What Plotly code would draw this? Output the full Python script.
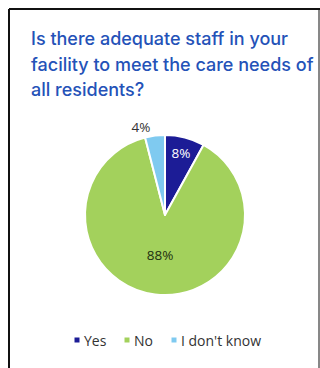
import plotly.graph_objects as go

labels = ["Yes", "No", "I don't know"]
values = [8, 88, 4]
colors = ["#1c1c96", "#a3d15c", "#7fcaf0"]
text_colors = ["#ffffff", "#1f3010", "#333333"]
positions = ["inside", "inside", "outside"]
title_lines = ["Is there adequate staff in your", "facility to meet the care needs of", "all residents?"]

W, H = 320, 368

fig = go.Figure(go.Pie(
    labels=labels,
    values=values,
    sort=False,
    direction="clockwise",
    rotation=0,
    marker=dict(colors=colors, line=dict(color="white", width=2)),
    texttemplate="%{percent:.0%}",
    textposition=positions,
    insidetextorientation="horizontal",
    textfont=dict(family="Open Sans", size=13.5, color=text_colors),
    domain=dict(x=[85 / W, 245 / W], y=[1 - 295 / H, 1 - 135 / H]),
    hoverinfo="label+percent",
    showlegend=False,
))

# title, one annotation per line to match the line spacing
title_y = [38, 64, 89]
for line, yc in zip(title_lines, title_y):
    fig.add_annotation(
        text=line, xref="paper", yref="paper",
        x=29 / W, y=1 - yc / H, xanchor="left", yanchor="middle",
        showarrow=False,
        font=dict(family="Inter", size=18, color="#2452b8", weight=500),
    )

# custom legend (compact, like the original)
leg_x = [77, 127, 174]
leg_y = 340
for lab, col, lx in zip(labels, colors, leg_x):
    fig.add_shape(type="rect", xref="paper", yref="paper",
                  x0=(lx - 2.5) / W, x1=(lx + 2.5) / W,
                  y0=1 - (leg_y + 2.5) / H, y1=1 - (leg_y - 2.5) / H,
                  fillcolor=col, line=dict(width=0))
    fig.add_annotation(
        text=lab, xref="paper", yref="paper",
        x=(lx + 5) / W, y=1 - leg_y / H, xanchor="left", yanchor="middle",
        showarrow=False,
        font=dict(family="Open Sans", size=14, color="#333333"),
    )

border = dict(color="#111111", width=2)
fig.add_shape(type="line", xref="paper", yref="paper", x0=9 / W, x1=9 / W, y0=0, y1=1 - 9 / H, line=border)
fig.add_shape(type="line", xref="paper", yref="paper", x0=9 / W, x1=1, y0=1 - 9 / H, y1=1 - 9 / H, line=border)
fig.add_shape(type="line", xref="paper", yref="paper", x0=319 / W, x1=319 / W, y0=0, y1=1 - 9 / H, line=dict(color="#111111", width=1))

fig.update_layout(
    width=W, height=H,
    margin=dict(l=0, r=0, t=0, b=0),
    paper_bgcolor="white",
    plot_bgcolor="white",
    showlegend=False,
)

fig.write_html("out.html")
